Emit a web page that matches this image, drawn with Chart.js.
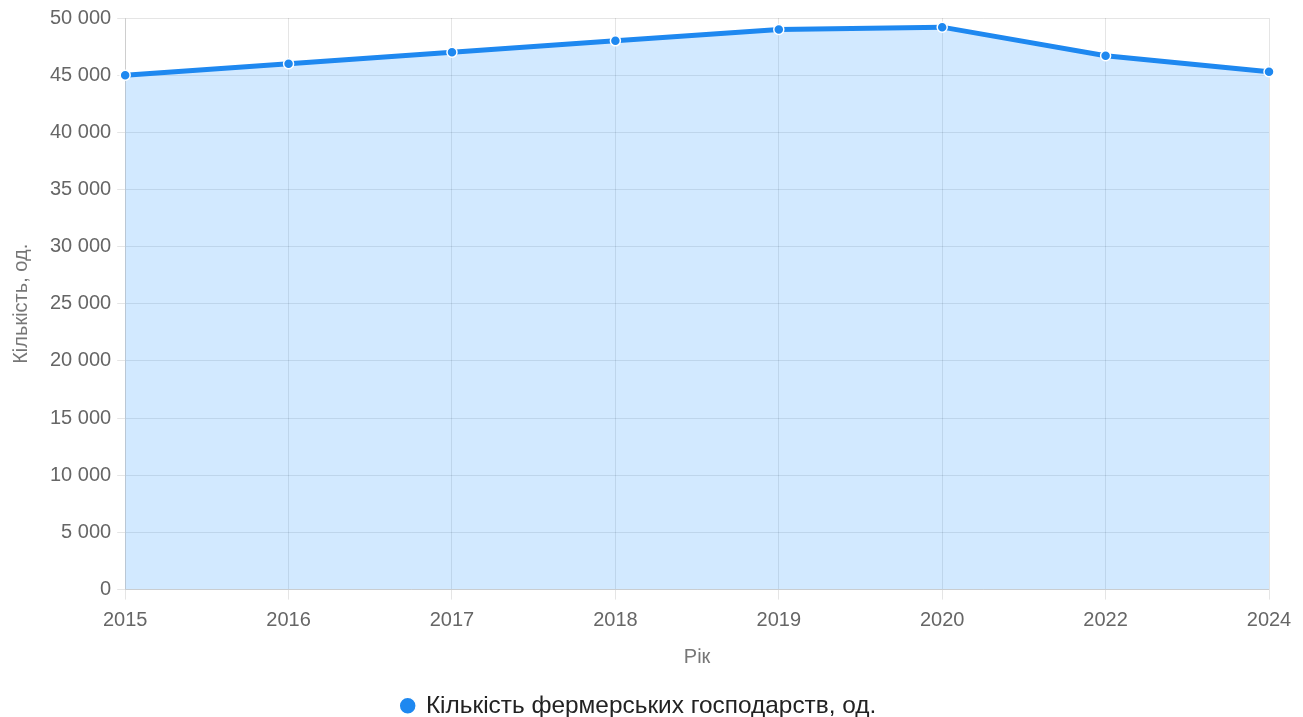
<!DOCTYPE html>
<html>
<head>
<meta charset="utf-8">
<script src="https://cdn.jsdelivr.net/npm/chart.js@4"></script>
<style>
  html, body { margin: 0; padding: 0; background: #fff; }
  #wrap { width: 1303px; height: 717px; }
</style>
</head>
<body>
<div id="wrap"><canvas id="line"></canvas></div>
<script>
// DATA
const years = ['2015', '2016', '2017', '2018', '2019', '2020', '2022', '2024'];
const farms = [45000, 46000, 47000, 48000, 49000, 49200, 46700, 45300];
const seriesLabel = 'Кількість фермерських господарств, од.';
const xTitle = 'Рік';
const yTitle = 'Кількість, од.';

const FONT = 'Liberation Sans, Arial, sans-serif';
const ctx = document.getElementById('line').getContext('2d');

new Chart(ctx, {
    type: 'line',
    data: {
        labels: years,
        datasets: [{
            label: seriesLabel,
            data: farms,
            fill: true,
            borderColor: '#1e88f0',
            backgroundColor: 'rgba(30, 144, 255, 0.2)',
            borderWidth: 5,
            pointRadius: 5,
            pointBackgroundColor: '#1e88f0',
            pointBorderColor: '#ffffff',
            pointBorderWidth: 1.5,
            tension: 0
        }]
    },
    options: {
        responsive: true,
        maintainAspectRatio: false,
        animation: false,
        layout: {
            padding: { left: 9, right: 34, top: 11, bottom: -11 }
        },
        plugins: {
            legend: {
                position: 'bottom',
                labels: {
                    usePointStyle: true,
                    pointStyle: 'circle',
                    boxWidth: 12,
                    boxHeight: 12,
                    padding: 6,
                    color: '#222',
                    font: { family: FONT, size: 24.4 }
                }
            },
            tooltip: { enabled: false }
        },
        scales: {
            x: {
                title: {
                    display: true,
                    text: xTitle,
                    color: '#777',
                    font: { family: FONT, size: 20 },
                    padding: { top: 4, bottom: 18 }
                },
                ticks: {
                    color: '#666',
                    font: { family: FONT, size: 20 },
                    maxRotation: 0,
                    padding: 9
                },
                grid: { color: 'rgba(0, 0, 0, 0.1)', tickLength: 10 }
            },
            y: {
                min: 0,
                max: 50000,
                title: {
                    display: true,
                    text: yTitle,
                    color: '#777',
                    font: { family: FONT, size: 20 },
                    padding: { top: 0, bottom: 11 }
                },
                ticks: {
                    stepSize: 5000,
                    color: '#666',
                    font: { family: FONT, size: 20 },
                    padding: 6,
                    callback: v => v.toLocaleString('uk-UA').replace(/\s/g, ' ')
                },
                grid: { color: 'rgba(0, 0, 0, 0.1)', tickLength: 8 }
            }
        }
    }
});
</script>
</body>
</html>
